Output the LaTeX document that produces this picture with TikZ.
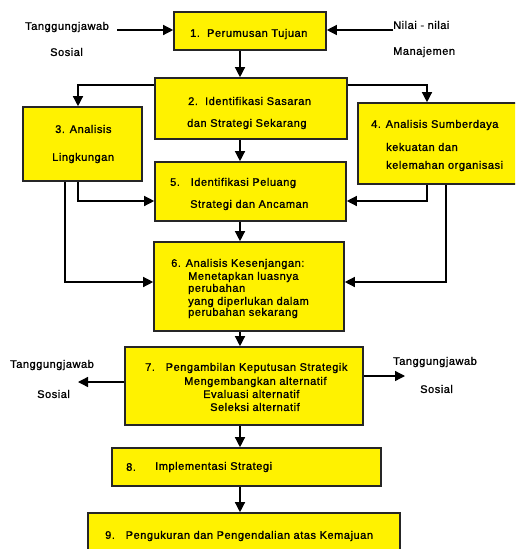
\documentclass[tikz,border=0pt]{standalone}
\usepackage{fontspec}
\setmainfont[LetterSpace=5,FakeBold=1.2]{Liberation Sans}
\usetikzlibrary{arrows.meta}
\tikzset{
  box/.style={draw=black!85, line width=1.6pt, fill=yellow, inner sep=0pt},
  txt/.style={anchor=west, inner sep=0pt, font=\fontsize{11}{13}\selectfont},
  arr/.style={line width=1.3pt, -{Triangle[length=10pt,width=10pt]}},
  ln/.style={line width=1.3pt}
}
\begin{document}
\begin{tikzpicture}[x=1pt,y=-1pt]
\useasboundingbox (0,0) rectangle (515,549);
\clip (0,0) rectangle (515,549);
% boxes
\node[box, minimum width=152pt, minimum height=38pt] (b1) at (250,31) {};
\node[box, minimum width=192pt, minimum height=61pt] (b2) at (251,108.5) {};
\node[box, minimum width=119pt, minimum height=74pt] (b3) at (82.5,144) {};
\node[box, minimum width=170pt, minimum height=81pt] (b4) at (443,143.5) {};
\node[box, minimum width=191pt, minimum height=59pt] (b5) at (250.5,191.5) {};
\node[box, minimum width=190pt, minimum height=89pt] (b6) at (249,286.5) {};
\node[box, minimum width=238pt, minimum height=78pt] (b7) at (244,386) {};
\node[box, minimum width=269pt, minimum height=38pt] (b8) at (246.5,467) {};
\node[box, minimum width=312pt, minimum height=50pt] (b9) at (244,538) {};
% box texts
\node[txt] (t1) at (190,34) {1.\ \ Perumusan Tujuan};
\node[txt] (t2a) at (188,101) {2.\ \ Identifikasi Sasaran};
\node[txt] (t2b) at (187,124) {dan Strategi Sekarang};
\node[txt] (t3a) at (55,129) {3. Analisis};
\node[txt] (t3b) at (52,158) {Lingkungan};
\node[txt] (t4a) at (371,125) {4. Analisis Sumberdaya};
\node[txt] (t4b) at (386,147) {kekuatan dan};
\node[txt] (t4c) at (386,166) {kelemahan organisasi};
\node[txt] (t5a) at (170,183) {5.\ \ \ Identifikasi Peluang};
\node[txt] (t5b) at (190,205) {Strategi dan Ancaman};
\node[txt] (t6a) at (171,264) {6. Analisis Kesenjangan:};
\node[txt] (t6b) at (188,277) {Menetapkan luasnya};
\node[txt] (t6c) at (188,289) {perubahan};
\node[txt] (t6d) at (188,302) {yang diperlukan dalam};
\node[txt] (t6e) at (188,313) {perubahan sekarang};
\node[txt] (t7a) at (145,368) {7.\ \ \ Pengambilan Keputusan Strategik};
\node[txt] (t7b) at (184,382) {Mengembangkan alternatif};
\node[txt] (t7c) at (203,394) {Evaluasi alternatif};
\node[txt] (t7d) at (210,407) {Seleksi alternatif};
\node[txt] (t8a) at (126,467) {8.};
\node[txt] (t8b) at (155,467) {Implementasi Strategi};
\node[txt] (t9) at (105,536) {9.\ \ \ Pengukuran dan Pengendalian atas Kemajuan};
% outside texts
\node[txt] (ls1) at (25,27) {Tanggungjawab};
\node[txt] (ls2) at (50,52) {Sosial};
\node[txt] (nm1) at (393,25) {Nilai - nilai};
\node[txt] (nm2) at (393,52) {Manajemen};
\node[txt] (bl1) at (10,365) {Tanggungjawab};
\node[txt] (bl2) at (37,394) {Sosial};
\node[txt] (br1) at (393,362) {Tanggungjawab};
\node[txt] (br2) at (420,389) {Sosial};
% coordinates
\coordinate (inL) at (117,30);
\coordinate (inR) at (393,30);
\coordinate (e23) at (78,85);
\coordinate (e24) at (427,85);
\coordinate (e35) at (78,201);
\coordinate (e36) at (65,282);
\coordinate (e45) at (427,201);
\coordinate (e46) at (446,282);
\coordinate (o7L) at (78,382);
\coordinate (o7R) at (405,376);
% connectors
\draw[arr] (inL) -- (b1.west |- inL);
\draw[arr] (inR) -- (b1.east |- inR);
\draw[arr] (b1.south -| 240,0) -- (b2.north -| 240,0);
\draw[arr] (b2.west |- e23) -- (e23) -- (b3.north -| e23);
\draw[arr] (b2.east |- e24) -- (e24) -- (b4.north -| e24);
\draw[arr] (b2.south -| 240,0) -- (b5.north -| 240,0);
\draw[arr] (b3.south -| e35) -- (e35) -- (b5.west |- e35);
\draw[arr] (b3.south -| e36) -- (e36) -- (b6.west |- e36);
\draw[arr] (b4.south -| e45) -- (e45) -- (b5.east |- e45);
\draw[arr] (b4.south -| e46) -- (e46) -- (b6.east |- e46);
\draw[arr] (b5.south -| 240,0) -- (b6.north -| 240,0);
\draw[arr] (b6.south -| 240,0) -- (b7.north -| 240,0);
\draw[arr] (b7.west |- o7L) -- (o7L);
\draw[arr] (b7.east |- o7R) -- (o7R);
\draw[arr] (b7.south -| 240,0) -- (b8.north -| 240,0);
\draw[arr] (b8.south -| 240,0) -- (b9.north -| 240,0);
\end{tikzpicture}
\end{document}
